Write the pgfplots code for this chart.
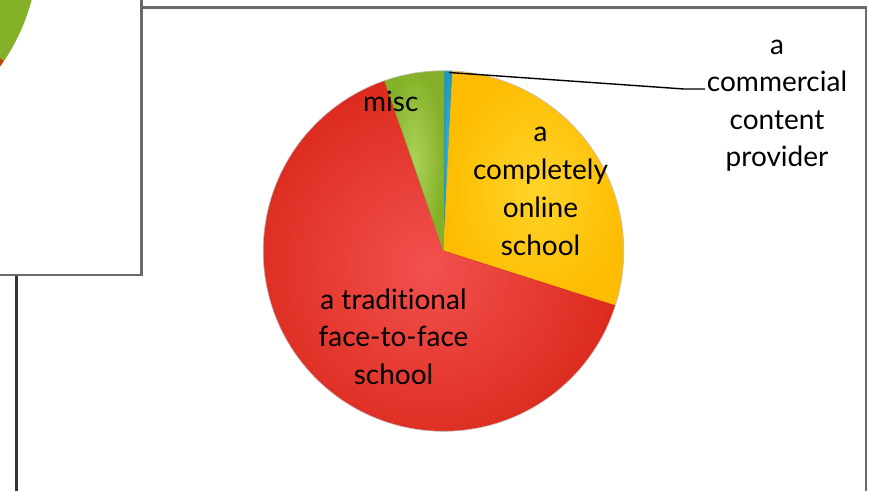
\documentclass[border=0pt]{standalone}
\usepackage{pgfplots}
\pgfplotsset{compat=1.18}
\usepackage{pgfplotstable}
\usepackage{fontspec}
\setmainfont{Lato}[Ligatures=NoCommon]

\definecolor{pieblueI}{HTML}{3DB5D6}
\definecolor{pieblueO}{HTML}{2298BA}
\definecolor{pieyellowI}{HTML}{FFD42A}
\definecolor{pieyellowO}{HTML}{FDBC00}
\definecolor{pieredI}{HTML}{F2514F}
\definecolor{pieredO}{HTML}{DC2B1E}
\definecolor{piegreenI}{HTML}{ABD35A}
\definecolor{piegreenO}{HTML}{85B128}
\definecolor{piebrown}{HTML}{B84D12}
\definecolor{framegray}{HTML}{6A6A6A}

% share of each answer, in percent, clockwise from the top
\pgfplotstableread{
label value inner outer
commercial 0.8 pieblueI pieblueO
online 29.1 pieyellowI pieyellowO
traditional 64.8 pieredI pieredO
misc 5.3 piegreenI piegreenO
}\piedata

\begin{document}
\begin{tikzpicture}
\begin{axis}[
  scale only axis, width=869pt, height=490pt,
  xmin=0, xmax=869, ymin=0, ymax=490,
  hide axis, clip=false,
]
\pgfplotsextra{
  % main frame
  \draw[framegray, line width=2.2pt] (axis cs:16.5,-20) -- (axis cs:16.5,482.5) -- (axis cs:866,482.5) -- (axis cs:866,-20);
  \draw[black!80, line width=2.2pt] (axis cs:16.5,-20) -- (axis cs:16.5,216);
  % pie
  \gdef\startang{90}
  \foreach \i in {0,...,3}{
    \pgfplotstablegetelem{\i}{value}\of\piedata \let\v\pgfplotsretval
    \pgfplotstablegetelem{\i}{inner}\of\piedata \let\ci\pgfplotsretval
    \pgfplotstablegetelem{\i}{outer}\of\piedata \let\co\pgfplotsretval
    \pgfmathsetmacro\endang{\startang-3.6*\v}
    \shade[inner color=\ci, outer color=\co, draw=\co, line width=0.5pt]
      (axis cs:443.5,239) -- ++(\startang:180pt)
      arc[start angle=\startang, end angle=\endang, radius=180pt] -- cycle;
    \xdef\startang{\endang}
  }
  \draw[black!25, line width=0.6pt] (axis cs:443.5,239) circle[radius=180.3pt];
  % leader line
  \draw[black, line width=1.4pt] (axis cs:449,417.5) -- (axis cs:684,401) -- (axis cs:705,401);
  % labels
  \begin{scope}[every node/.style={font=\fontsize{28}{34}\selectfont, anchor=base, inner sep=0pt}]
    \node at (axis cs:390.8,378.3) {misc};
    \node at (axis cs:540.5,348) {a};
    \node at (axis cs:540.5,310) {completely};
    \node at (axis cs:540.5,272) {online};
    \node at (axis cs:540.5,234) {school};
    \node at (axis cs:393.5,180) {a traditional};
    \node at (axis cs:393.5,143) {face-to-face};
    \node at (axis cs:393.5,106) {school};
    \node at (axis cs:777,435) {a};
    \node at (axis cs:777,398) {commercial};
    \node at (axis cs:777,360) {content};
    \node at (axis cs:777,323) {provider};
  \end{scope}
  % overlapping chart box at top left
  \fill[white] (axis cs:-10,215) rectangle (axis cs:141.5,500);
  \begin{scope}
    \clip (axis cs:0,215) rectangle (axis cs:141.5,490);
    \fill[piegreenO] (axis cs:-160,540) -- ++(-34:198pt) arc[start angle=-34, end angle=30, radius=198pt] -- cycle;
    \fill[piebrown] (axis cs:-160,540) -- ++(-60:198pt) arc[start angle=-60, end angle=-34, radius=198pt] -- cycle;
  \end{scope}
  \draw[framegray, line width=2.2pt] (axis cs:-10,215) -- (axis cs:141.5,215) -- (axis cs:141.5,500);
}
\end{axis}
\pgfresetboundingbox
\useasboundingbox (0,0) rectangle (869pt,490pt);
\end{tikzpicture}
\end{document}
